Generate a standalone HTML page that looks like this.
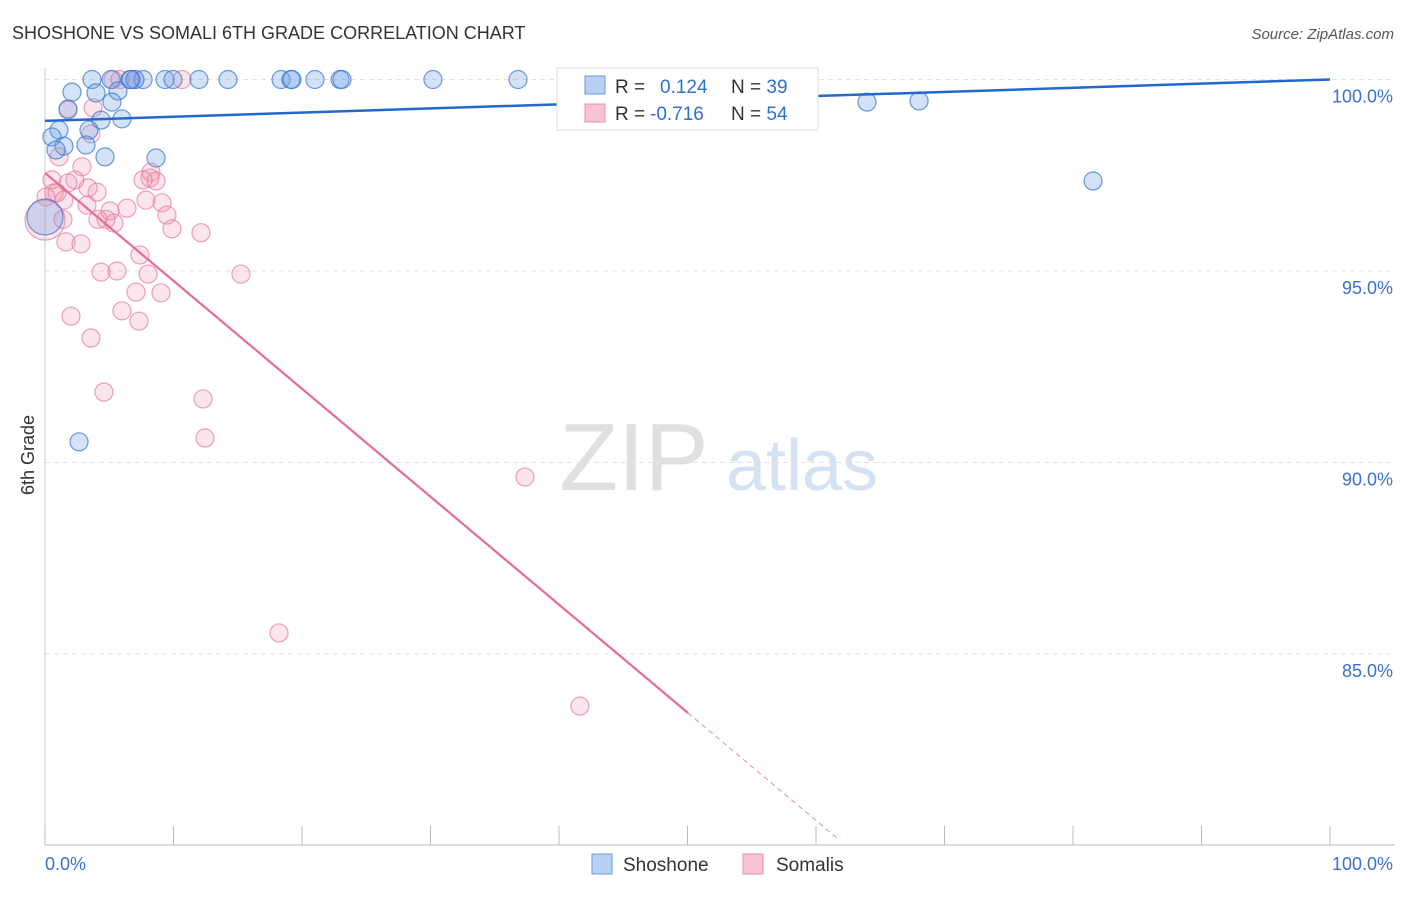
<!DOCTYPE html>
<html><head><meta charset="utf-8"><style>
body{margin:0;background:#fff;font-family:"Liberation Sans",sans-serif}
svg text{font-family:"Liberation Sans",sans-serif}
</style></head><body>
<svg id="c" width="1406" height="892" xmlns="http://www.w3.org/2000/svg">
<text x="12" y="39" font-size="18" fill="#333">SHOSHONE VS SOMALI 6TH GRADE CORRELATION CHART</text>
<text x="1394" y="39" font-size="15" fill="#555" font-style="italic" text-anchor="end">Source: ZipAtlas.com</text>
<g>
<text x="634" y="490" font-size="96" fill="#e0e0e0" font-family="Liberation Serif" text-anchor="middle">ZIP</text>
<text x="802" y="490" font-size="72" fill="#d4e2f4" text-anchor="middle">atlas</text>
</g>
<text transform="translate(34,455) rotate(-90)" font-size="18" fill="#333" text-anchor="middle">6th Grade</text>
<g id="grid"></g><g id="ticks"></g><g id="pts"></g><g id="lines"></g>
<g>
<rect x="557" y="68" width="261" height="62" fill="#fff" stroke="#ddd"/>
<rect x="585" y="76" width="20" height="18" fill="#b8d0f2" stroke="#6a9ad8"/>
<rect x="585" y="104" width="20" height="18" fill="#f8c4d2" stroke="#e890aa"/>
<text x="615" y="93" font-size="19" fill="#333">R = <tspan fill="#2f6fce" x="660">0.124</tspan><tspan x="731">N = </tspan><tspan fill="#2f6fce">39</tspan></text>
<text x="615" y="120" font-size="19" fill="#333">R = <tspan fill="#2f6fce" x="650">-0.716</tspan><tspan x="731">N = </tspan><tspan fill="#2f6fce">54</tspan></text>
</g>
<g>
<rect x="592" y="854" width="20" height="20" fill="#b8d0f2" stroke="#6a9ad8"/>
<text x="623" y="871" font-size="19" fill="#333">Shoshone</text>
<rect x="743" y="854" width="20" height="20" fill="#f8c4d2" stroke="#e890aa"/>
<text x="776" y="871" font-size="19" fill="#333">Somalis</text>
</g>
</svg>
<script>
const yTicks=[100,95,90,85];
const xTickLabels=["0.0%","100.0%"];
const blueX=[3.66,5.14,6.61,7.0,7.63,9.34,9.96,11.98,14.24,18.37,19.14,21.01,22.96,23.11,30.19,36.81,42.26,2.1,3.97,5.68,5.21,1.79,5.99,4.36,1.09,3.42,0.54,3.19,1.48,0.86,4.67,8.64,2.65,63.97,68.02,81.56,0,6.69,19.22];
const blueY=[100,100,100,100,100,100,100,100,100,100,100,100,100,100,100,100,100,99.67,99.65,99.70,99.41,99.23,98.97,98.94,98.68,98.68,98.50,98.29,98.26,98.16,97.98,97.95,90.54,99.41,99.44,97.35,96.41,100,100];
const pinkX=[5.84,10.66,3.74,3.58,1.09,2.88,0.54,2.33,1.79,3.35,4.05,0.70,0.08,1.48,3.27,7.63,8.25,8.64,7.86,9.11,9.49,5.06,6.38,4.75,5.37,4.12,1.40,9.88,12.14,1.63,2.80,7.39,4.36,5.60,8.02,15.25,7.08,9.03,5.99,7.32,2.02,3.58,4.59,12.30,12.45,37.35,18.21,41.63,0,5.29,1.79,0.93,8.17,7.0];
const pinkY=[100,100,99.26,98.58,97.98,97.72,97.38,97.38,97.30,97.17,97.06,97.04,96.93,96.85,96.72,97.38,97.58,97.35,96.85,96.78,96.46,96.57,96.64,96.35,96.25,96.35,96.35,96.10,96.0,95.76,95.71,95.42,94.97,95.0,94.92,94.92,94.45,94.43,93.96,93.69,93.82,93.25,91.84,91.66,90.64,89.62,85.55,83.64,96.33,100,99.2,97.04,97.43,100];
const blueTrend=[98.92,100.0];
const pinkTrend=[97.56,83.46];
const pinkSolidEnd=50.04, pinkDashEnd=61.7;
const X0=45,X1=1330,Y100=79.5,PPU=38.3;
const sx=v=>X0+(X1-X0)*v/100;
const sy=v=>Y100+(100-v)*PPU;
const NS="http://www.w3.org/2000/svg";
function mk(tag,attrs,parent){const e=document.createElementNS(NS,tag);for(const k in attrs)e.setAttribute(k,attrs[k]);document.getElementById(parent).appendChild(e);return e;}
yTicks.forEach(t=>{
  const l=mk('line',{x1:X0,x2:1395,y1:sy(t),y2:sy(t),stroke:'#e2e2e2','stroke-dasharray':'5,4'},'grid');
  
  
  const tx=mk('text',{x:1393,y:sy(t)+23,'font-size':18,fill:'#3a72cc','text-anchor':'end'},'grid');
  tx.textContent=t.toFixed(1)+'%';
  
  
});
const ax=mk('line',{x1:X0,x2:X0,y1:68,y2:845,stroke:'#ccc'},'ticks');


const bx=mk('line',{x1:X0,x2:1395,y1:845,y2:845,stroke:'#bbb'},'ticks');


for(let i=0;i<=10;i++){
  const t=mk('line',{x1:sx(i*10),x2:sx(i*10),y1:826,y2:845,stroke:'#bbb'},'ticks');
  
  
}
const xl0=mk('text',{x:45,y:870,'font-size':18,fill:'#3a72cc'},'ticks');xl0.textContent=xTickLabels[0];


const xl1=mk('text',{x:1393,y:870,'font-size':18,fill:'#3a72cc','text-anchor':'end'},'ticks');xl1.textContent=xTickLabels[1];


pinkX.forEach((x,i)=>{
  const big=(x===0&&pinkY[i]>96.2&&pinkY[i]<96.4);
  const c=mk('circle',{cx:sx(x),cy:sy(pinkY[i]),r:big?20:9,fill:'rgba(240,140,170,0.22)',stroke:'rgba(230,130,160,0.75)','stroke-width':1.2},'pts');
  
  
});
blueX.forEach((x,i)=>{
  const big=(x===0&&blueY[i]>96.3&&blueY[i]<96.5);
  const c=mk('circle',{cx:sx(x),cy:sy(blueY[i]),r:big?18:9,fill:'rgba(110,160,230,0.3)',stroke:'rgba(60,120,210,0.75)','stroke-width':1.2},'pts');
  
  
});
const bt=mk('line',{x1:sx(0),y1:sy(blueTrend[0]),x2:sx(100),y2:sy(blueTrend[1]),stroke:'#2468cc','stroke-width':2.5},'lines');


const pAt=x=>pinkTrend[0]+(pinkTrend[1]-pinkTrend[0])*x/pinkSolidEnd;
const pt=mk('line',{x1:sx(0),y1:sy(pAt(0)),x2:sx(pinkSolidEnd),y2:sy(pAt(pinkSolidEnd)),stroke:'#e86a96','stroke-width':2.2},'lines');


const pd=mk('line',{x1:sx(pinkSolidEnd),y1:sy(pAt(pinkSolidEnd)),x2:sx(pinkDashEnd),y2:sy(pAt(pinkDashEnd)),stroke:'#e88aaa','stroke-width':1,'stroke-dasharray':'5,4'},'lines');


</script>
</body></html>
